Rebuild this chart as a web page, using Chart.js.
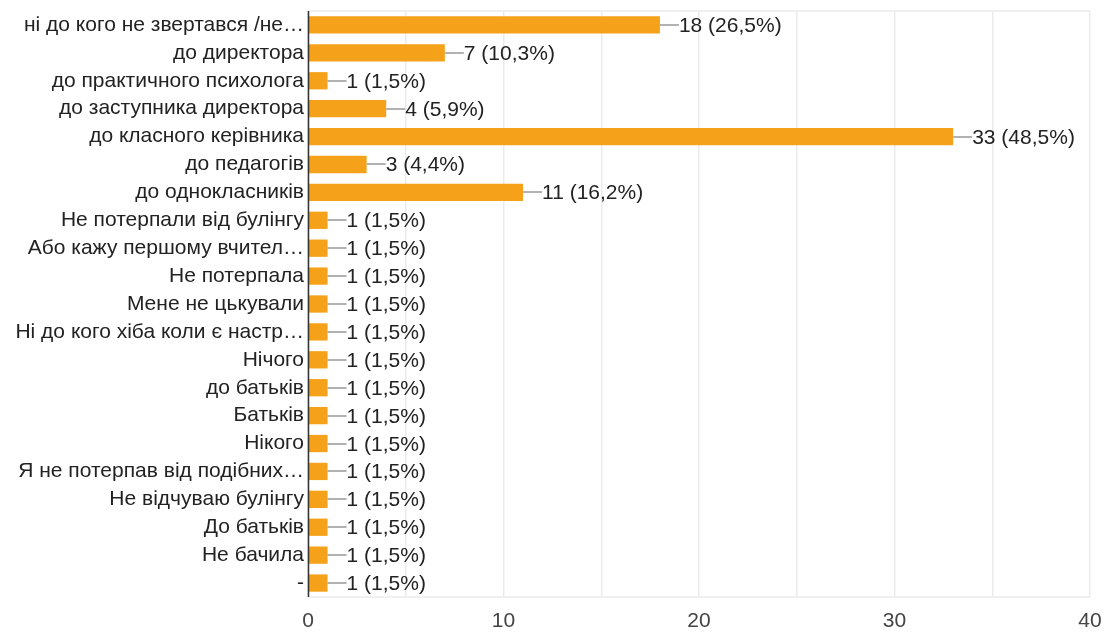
<!DOCTYPE html>
<html>
<head>
<meta charset="utf-8">
<script src="https://cdn.jsdelivr.net/npm/chart.js@4/dist/chart.umd.min.js"></script>
<style>
  html, body { margin: 0; padding: 0; background: #fff; }
  #wrap { width: 1105px; height: 632px; position: relative; }
</style>
</head>
<body>
<div id="wrap"><canvas id="answers"></canvas></div>
<script>
// відповіді (можна обрати кілька), 68 респондентів
const categories = [
  'ні до кого не звертався /не…',
  'до директора',
  'до практичного психолога',
  'до заступника директора',
  'до класного керівника',
  'до педагогів',
  'до однокласників',
  'Не потерпали від булінгу',
  'Або кажу першому вчител…',
  'Не потерпала',
  'Мене не цькували',
  'Ні до кого хіба коли є настр…',
  'Нічого',
  'до батьків',
  'Батьків',
  'Нікого',
  'Я не потерпав від подібних…',
  'Не відчуваю булінгу',
  'До батьків',
  'Не бачила',
  '-'
];
const counts = [18, 7, 1, 4, 33, 3, 11, 1, 1, 1, 1, 1, 1, 1, 1, 1, 1, 1, 1, 1, 1];
const respondents = 68;
const xTicks = [0, 10, 20, 30, 40];

const fontFamily = '"Liberation Sans", Arial, sans-serif';
const fontSize = 21;

function pct(v) {
  return (v / respondents * 100).toFixed(1).replace('.', ',') + '%';
}

// лінія-виноска та підпис біля кінця стовпця
const valueLabels = {
  id: 'valueLabels',
  afterDatasetsDraw(chart) {
    const ctx = chart.ctx;
    const meta = chart.getDatasetMeta(0);
    ctx.save();
    ctx.font = fontSize + 'px ' + fontFamily;
    ctx.textBaseline = 'middle';
    ctx.textAlign = 'left';
    meta.data.forEach((bar, i) => {
      const x = bar.x, y = Math.round(bar.y);
      ctx.strokeStyle = '#999';
      ctx.lineWidth = 1.5;
      ctx.beginPath();
      ctx.moveTo(x, y);
      ctx.lineTo(x + 19, y);
      ctx.stroke();
      ctx.fillStyle = '#222';
      ctx.fillText(counts[i] + ' (' + pct(counts[i]) + ')', x + 19, y + 1);
    });
    ctx.restore();
  }
};

// рамка області та вісь нуля
const frame = {
  id: 'frame',
  beforeDatasetsDraw(chart) {
    const ctx = chart.ctx;
    const a = chart.chartArea;
    ctx.save();
    ctx.strokeStyle = '#ebebeb';
    ctx.lineWidth = 1.5;
    ctx.beginPath();
    ctx.moveTo(a.left, a.top);
    ctx.lineTo(a.right, a.top);
    ctx.moveTo(a.left, a.bottom);
    ctx.lineTo(a.right, a.bottom);
    ctx.stroke();
    ctx.restore();
  },
  afterDatasetsDraw(chart) {
    const ctx = chart.ctx;
    const x0 = Math.round(chart.scales.x.getPixelForValue(0)) + 0.5;
    const a = chart.chartArea;
    ctx.save();
    ctx.strokeStyle = '#333';
    ctx.lineWidth = 1.5;
    ctx.beginPath();
    ctx.moveTo(x0, a.top);
    ctx.lineTo(x0, a.bottom);
    ctx.stroke();
    ctx.restore();
  }
};

new Chart(document.getElementById('answers'), {
  type: 'bar',
  data: {
    labels: categories,
    datasets: [{
      data: counts,
      backgroundColor: '#f5a11a',
      borderWidth: 0,
      barPercentage: 0.62,
      categoryPercentage: 1
    }]
  },
  options: {
    indexAxis: 'y',
    responsive: true,
    maintainAspectRatio: false,
    animation: false,
    layout: { padding: { top: 11, right: 15, left: 0, bottom: 0 } },
    plugins: {
      legend: { display: false },
      tooltip: { enabled: false }
    },
    scales: {
      x: {
        min: xTicks[0],
        max: xTicks[xTicks.length - 1],
        ticks: {
          stepSize: 5,
          padding: 12,
          color: '#444',
          font: { family: fontFamily, size: fontSize },
          callback: v => xTicks.includes(v) ? v : ''
        },
        grid: { color: '#ebebeb', lineWidth: 1.5, drawTicks: false },
        border: { display: false },
        afterFit(scale) {
          scale.height = 35;
          scale.paddingLeft = 0;
          scale.paddingRight = 0;
        }
      },
      y: {
        ticks: {
          color: '#222',
          padding: 4,
          autoSkip: false,
          font: { family: fontFamily, size: fontSize }
        },
        grid: { display: false, drawTicks: false },
        border: { display: false },
        afterFit(scale) {
          scale.width = 308;
          scale.paddingTop = 0;
          scale.paddingBottom = 0;
        }
      }
    }
  },
  plugins: [valueLabels, frame]
});
</script>
</body>
</html>
